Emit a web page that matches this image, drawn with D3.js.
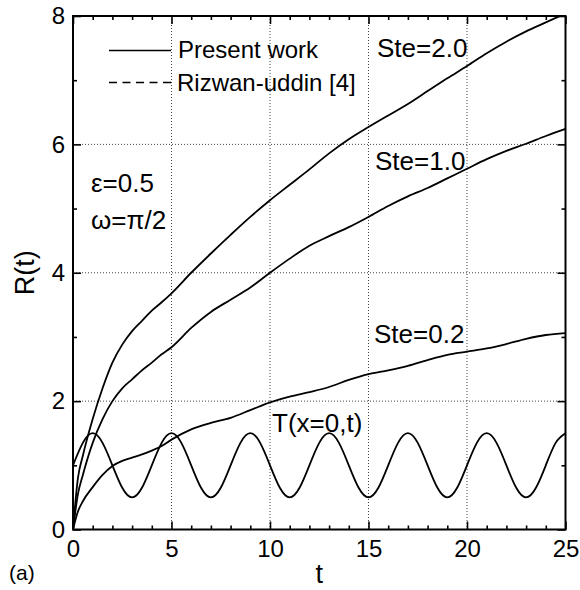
<!DOCTYPE html>
<html>
<head>
<meta charset="utf-8">
<script src="https://cdn.jsdelivr.net/npm/d3@7"></script>
<style>
  body { margin: 0; background: #fff; }
  text { font-family: "Liberation Sans", Arial, sans-serif; fill: #000; }
</style>
</head>
<body>
<svg id="chart" width="580" height="590"></svg>
<script>
// Time samples for the interface position curves
const tR = [0, 0.25, 0.5, 1, 1.5, 2, 2.5, 3, 3.5, 4, 4.5, 5, 6, 7, 8, 9, 10,
            11, 12, 13, 14, 15, 16, 17, 18, 19, 20, 21, 22, 23, 24, 25];

// Interface position R(t) for each Stefan number
const rSte20 = [0, 0.80, 1.15, 1.72, 2.20, 2.60, 2.88, 3.09, 3.25, 3.41, 3.54, 3.68, 4.00, 4.30, 4.59, 4.87, 5.13,
                5.37, 5.61, 5.86, 6.08, 6.27, 6.45, 6.63, 6.83, 7.03, 7.22, 7.42, 7.60, 7.76, 7.90, 8.04];
const rSte10 = [0, 0.55, 0.85, 1.35, 1.72, 2.00, 2.20, 2.34, 2.48, 2.60, 2.73, 2.84, 3.14, 3.39, 3.58, 3.77, 4.00,
                4.22, 4.42, 4.57, 4.71, 4.87, 5.04, 5.19, 5.32, 5.47, 5.62, 5.77, 5.90, 6.01, 6.13, 6.24];
const rSte02 = [0, 0.28, 0.44, 0.66, 0.85, 0.99, 1.07, 1.12, 1.17, 1.23, 1.30, 1.40, 1.56, 1.66, 1.74, 1.86, 1.98,
                2.07, 2.14, 2.22, 2.33, 2.42, 2.48, 2.55, 2.64, 2.72, 2.77, 2.82, 2.89, 2.97, 3.03, 3.06];

// Boundary temperature T(x=0,t)
const tT = [0, 0.5, 1, 1.5, 2, 2.5, 3, 3.5, 4, 4.5, 5, 5.5, 6, 6.5, 7, 7.5, 8, 8.5, 9, 9.5,
            10, 10.5, 11, 11.5, 12, 12.5, 13, 13.5, 14, 14.5, 15, 15.5, 16, 16.5, 17, 17.5,
            18, 18.5, 19, 19.5, 20, 20.5, 21, 21.5, 22, 22.5, 23, 23.5, 24, 24.5, 25];
const tempT = [1.0, 1.35, 1.5, 1.35, 1.0, 0.65, 0.5, 0.65,
               1.0, 1.35, 1.5, 1.35, 1.0, 0.65, 0.5, 0.65,
               1.0, 1.35, 1.5, 1.35, 1.0, 0.65, 0.5, 0.65,
               1.0, 1.35, 1.5, 1.35, 1.0, 0.65, 0.5, 0.65,
               1.0, 1.35, 1.5, 1.35, 1.0, 0.65, 0.5, 0.65,
               1.0, 1.35, 1.5, 1.35, 1.0, 0.65, 0.5, 0.65,
               1.0, 1.35, 1.5];

// Axis ticks
const xTicks = [0, 5, 10, 15, 20, 25];
const yTicks = [0, 2, 4, 6, 8];
const xMinor = [1, 2, 3, 4, 6, 7, 8, 9, 11, 12, 13, 14, 16, 17, 18, 19, 21, 22, 23, 24];
const yMinor = [1, 3, 5, 7];

const svg = d3.select("#chart");
const L = 73, R = 565.5, T = 16, B = 529.5;

const x = d3.scaleLinear().domain([0, 25]).range([L, R]);
const y = d3.scaleLinear().domain([0, 8]).range([B, T]);

// Dotted grid at the major ticks
const grid = svg.append("g").attr("stroke", "#444").attr("stroke-width", 1)
  .attr("stroke-dasharray", "1,2");
grid.selectAll(".gx").data(xTicks.slice(1, -1)).join("line")
  .attr("x1", d => x(d)).attr("x2", d => x(d)).attr("y1", T).attr("y2", B);
grid.selectAll(".gy").data(yTicks.slice(1, -1)).join("line")
  .attr("x1", L).attr("x2", R).attr("y1", d => y(d)).attr("y2", d => y(d));

// Curves
svg.append("clipPath").attr("id", "plotClip")
  .append("rect").attr("x", L).attr("y", T).attr("width", R - L).attr("height", B - T);

const curves = svg.append("g").attr("clip-path", "url(#plotClip)")
  .attr("fill", "none").attr("stroke", "#000").attr("stroke-width", 1.8);

const lineR = d3.line().x(d => x(d[0])).y(d => y(d[1])).curve(d3.curveMonotoneX);
[rSte20, rSte10, rSte02].forEach(series => {
  curves.append("path").attr("d", lineR(tR.map((t, i) => [t, series[i]])));
});
const lineT = d3.line().x(d => x(d[0])).y(d => y(d[1])).curve(d3.curveNatural);
curves.append("path").attr("d", lineT(tT.map((t, i) => [t, tempT[i]])));

// Axes: ticks pointing inward on all four sides
const axisG = svg.append("g");
function addAxis(axis, tx, ty) {
  return axisG.append("g").attr("transform", `translate(${tx},${ty})`).call(axis);
}
addAxis(d3.axisBottom(x).tickValues(xTicks).tickSize(-8).tickPadding(10).tickFormat(d3.format("d")), 0, B);
addAxis(d3.axisBottom(x).tickValues(xMinor).tickSize(-4).tickFormat(""), 0, B);
addAxis(d3.axisTop(x).tickValues(xTicks).tickSize(-8).tickFormat(""), 0, T);
addAxis(d3.axisTop(x).tickValues(xMinor).tickSize(-4).tickFormat(""), 0, T);
addAxis(d3.axisLeft(y).tickValues(yTicks).tickSize(-8).tickPadding(8).tickFormat(d3.format("d")), L, 0);
addAxis(d3.axisLeft(y).tickValues(yMinor).tickSize(-4).tickFormat(""), L, 0);
addAxis(d3.axisRight(y).tickValues(yTicks).tickSize(-8).tickFormat(""), R, 0);
addAxis(d3.axisRight(y).tickValues(yMinor).tickSize(-4).tickFormat(""), R, 0);

axisG.selectAll(".domain").remove();
axisG.selectAll(".tick line").attr("stroke", "#000").attr("stroke-width", 1.6);
axisG.selectAll(".tick text")
  .style("font-family", "'Liberation Sans', Arial, sans-serif")
  .attr("font-size", 24).attr("fill", "#000");

// Frame
svg.append("rect").attr("x", L).attr("y", T).attr("width", R - L).attr("height", B - T)
  .attr("fill", "none").attr("stroke", "#000").attr("stroke-width", 2);

// Axis titles
svg.append("text").attr("x", (L + R) / 2).attr("y", 583).attr("text-anchor", "middle")
  .attr("font-size", 27).text("t");
svg.append("text").attr("transform", `translate(34,${(T + B) / 2}) rotate(-90)`)
  .attr("text-anchor", "middle").attr("font-size", 27).text("R(t)");
svg.append("text").attr("x", 9).attr("y", 580).attr("font-size", 21).text("(a)");

// Legend
const legend = svg.append("g");
legend.append("line").attr("x1", 109).attr("x2", 171).attr("y1", 50.5).attr("y2", 50.5)
  .attr("stroke", "#000").attr("stroke-width", 1.6);
legend.append("text").attr("x", 178).attr("y", 58).attr("font-size", 24).text("Present work");
legend.append("line").attr("x1", 109).attr("x2", 174).attr("y1", 82.5).attr("y2", 82.5)
  .attr("stroke", "#000").attr("stroke-width", 1.6).attr("stroke-dasharray", "8,5.5");
legend.append("text").attr("x", 177).attr("y", 91).attr("font-size", 24).text("Rizwan-uddin [4]");

// Curve annotations
const notes = [
  { text: "Ste=2.0", x: 377, y: 57 },
  { text: "Ste=1.0", x: 375, y: 170 },
  { text: "Ste=0.2", x: 374, y: 343 },
  { text: "T(x=0,t)", x: 272, y: 432 },
  { text: "\u03b5=0.5", x: 91, y: 192 },
  { text: "\u03c9=\u03c0/2", x: 91, y: 229 }
];
svg.append("g").selectAll("text").data(notes).join("text")
  .attr("x", d => d.x).attr("y", d => d.y).attr("font-size", 26).text(d => d.text);
</script>
</body>
</html>
